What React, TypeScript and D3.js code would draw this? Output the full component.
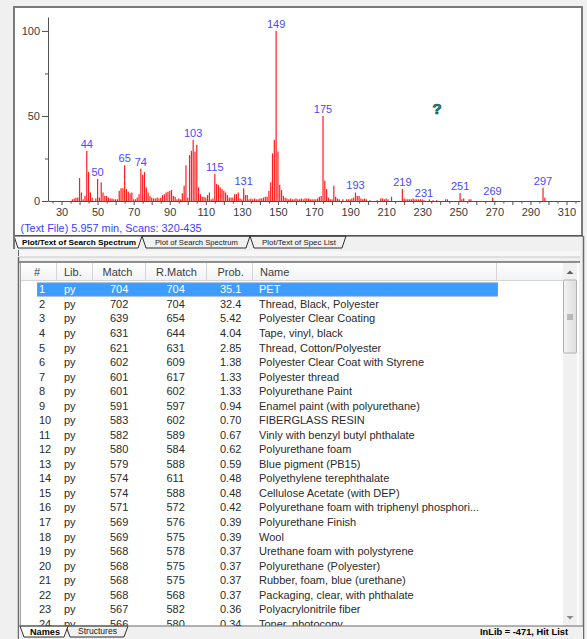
import React, { useEffect, useRef } from "react";
import { select, scaleLinear, axisBottom, axisLeft, range } from "d3";

// spectrum (m/z vs relative intensity, %)
const mzValues = [
  36, 37, 38, 39, 40, 41, 42, 43, 44, 45, 46, 47, 49, 50, 51, 52, 53, 54, 55, 56, 57, 58, 59, 60, 61,
  62, 63, 64, 65, 66, 67, 68, 69, 70, 71, 72, 73, 74, 75, 76, 77, 78, 79, 80, 81, 82, 83, 84, 85,
  86, 87, 88, 89, 90, 91, 92, 93, 94, 95, 96, 97, 98, 99, 100, 101, 102, 103, 104, 105, 106, 107,
  108, 109, 110, 111, 112, 113, 114, 115, 116, 117, 118, 119, 120, 121, 122, 123, 124, 125, 126,
  127, 128, 129, 130, 131, 132, 133, 134, 135, 136, 137, 138, 139, 140, 141, 142, 143, 144, 145,
  146, 147, 148, 149, 150, 151, 152, 153, 154, 155, 156, 157, 158, 159, 160, 161, 162, 163, 164,
  165, 166, 167, 168, 169, 170, 171, 172, 173, 174, 175, 176, 177, 178, 179, 180, 181, 182, 183,
  184, 186, 188, 189, 190, 191, 192, 193, 194, 195, 196, 197, 198, 199, 201, 205, 207, 208, 209,
  210, 211, 213, 219, 220, 221, 222, 223, 224, 225, 226, 227, 228, 229, 230, 231, 234, 236, 238,
  243, 244, 251, 252, 253, 256, 257, 269, 297, 298,
];
const intensities = [
  1, 1.5, 2, 2, 13.5, 5, 1, 3, 29.5, 17, 5, 2, 1.5, 13, 2, 11, 5, 3, 3, 2, 1.5, 1.5, 1, 1, 1,
  6, 7.5, 7.5, 21, 7, 5.5, 4.5, 5, 1, 1, 2, 4, 19, 15.5, 17, 8, 5, 3, 2, 1.5, 1.5, 2, 1.5, 2,
  3.5, 4, 5, 5.5, 6, 6.5, 3, 2.5, 1, 1.5, 1, 4.5, 9, 21, 2, 27, 29.5, 36, 29, 33, 8, 4,
  2.5, 2.5, 2, 3.5, 5, 1, 1.5, 16, 10, 9.5, 8, 7, 6, 5, 3.5, 2, 2, 2, 4,
  4, 5, 1.5, 1, 7.5, 3.5, 3.5, 1, 1.5, 1, 1.5, 1, 1, 1.5, 1.5, 2, 2.5, 2.5, 6,
  11, 28, 36, 100, 29, 9.5, 6.5, 3, 2, 1.5, 1, 1.5, 1, 1, 1.5, 1, 1, 1.5, 1,
  1.5, 1.5, 1.5, 1, 1, 1, 1, 1.5, 2.5, 3, 50, 12, 7, 2, 1, 1, 9, 2.5, 1.5,
  1, 1, 1, 1, 1, 1.5, 2, 5, 3, 3, 1.5, 1, 1.5, 1, 0.5, 0.5, 1.5, 1.5, 1,
  1.5, 1, 2.5, 7, 1.5, 1, 1, 1, 1, 1.5, 1, 1, 1, 1, 1, 0.5, 1, 0.5, 0.5,
  1, 1, 4.7, 1, 1.5, 1, 1, 2, 7.8, 2,
];
const labeledPeaks = [44, 50, 65, 74, 103, 115, 131, 149, 175, 193, 219, 231, 251, 269, 297];

const yTicks = [0, 25, 50, 75, 100];
const xTicks = range(25, 316, 5);

// hit list
const hitLibs = Array.from({ length: 24 }, () => "py");
const hitMatch = [704, 702, 639, 631, 621, 602, 601, 601, 591, 583, 582, 580, 579, 574, 574, 571, 569, 569, 568, 568, 568, 568, 567, 566];
const hitRMatch = [704, 704, 654, 644, 631, 609, 617, 602, 597, 602, 589, 584, 588, 611, 588, 572, 576, 575, 578, 575, 575, 568, 582, 580];
const hitProb = ["35.1", "32.4", "5.42", "4.04", "2.85", "1.38", "1.33", "1.33", "0.94", "0.70", "0.67", "0.62", "0.59", "0.48", "0.48", "0.42", "0.39", "0.39", "0.37", "0.37", "0.37", "0.37", "0.36", "0.34"];
const hitNames = [
  "PET",
  "Thread, Black, Polyester",
  "Polyester Clear Coating",
  "Tape, vinyl, black",
  "Thread, Cotton/Polyester",
  "Polyester Clear Coat with Styrene",
  "Polyester thread",
  "Polyurethane Paint",
  "Enamel paint (with polyurethane)",
  "FIBERGLASS RESIN",
  "Vinly with benzyl butyl phthalate",
  "Polyurethane foam",
  "Blue pigment (PB15)",
  "Polyethylene terephthalate",
  "Cellulose Acetate (with DEP)",
  "Polyurethane foam with triphenyl phosphori...",
  "Polyurethane Finish",
  "Wool",
  "Urethane foam with polystyrene",
  "Polyurethane (Polyester)",
  "Rubber, foam, blue (urethane)",
  "Packaging, clear, with phthalate",
  "Polyacrylonitrile fiber",
  "Toner, photocopy",
];
const headers = ["#", "Lib.", "Match", "R.Match", "Prob.", "Name"];

const FONT = "'Liberation Sans', Arial, sans-serif";

const App = () => {
  const xAxisRef = useRef<SVGGElement>(null);
  const yAxisRef = useRef<SVGGElement>(null);

  const x = scaleLinear().domain([22.5, 317.5]).range([48, 580]);
  const y = scaleLinear().domain([0, 108.2]).range([201, 17]);

  // row centres: row 1 at ~289, row 23 at ~609
  const rowY = scaleLinear().domain([0, 22]).range([289.4, 609.2]);
  const colX = [39, 64, 110, 166.5, 220, 259];
  const headX = [34, 64, 102.5, 156, 217.5, 260];
  const seps = [56.5, 92.5, 145.5, 206.5, 252.5, 496.5];

  useEffect(() => {
    const gx = select(xAxisRef.current);
    gx.call(
      axisBottom(x)
        .tickValues(xTicks)
        .tickSizeInner(3)
        .tickSizeOuter(0)
        .tickPadding(4.5)
        .tickFormat((d: any) => ((d - 30) % 20 === 0 ? String(d) : ""))
    );
    gx.select(".domain").attr("stroke", "#505050");
    gx.selectAll(".tick line")
      .attr("stroke", "#505050")
      .attr("y2", (d: any) => (d % 10 === 0 ? 4 : 2.5));
    gx.selectAll(".tick text")
      .attr("fill", "#3a3a3a")
      .style("font-family", FONT)
      .style("font-size", "11px");

    const gy = select(yAxisRef.current);
    gy.call(
      axisLeft(y)
        .tickValues(yTicks)
        .tickSizeInner(6)
        .tickSizeOuter(0)
        .tickPadding(2)
        .tickFormat((d: any) => (d % 50 === 0 ? String(d) : ""))
    );
    gy.select(".domain").attr("stroke", "#505050");
    gy.selectAll(".tick line")
      .attr("stroke", "#505050")
      .attr("x2", (d: any) => (d % 50 === 0 ? -6 : -3));
    gy.selectAll(".tick text")
      .attr("fill", "#3a3a3a")
      .style("font-family", FONT)
      .style("font-size", "11px");
  }, []);

  const tab = (x0: number, x1: number, y0: number, y1: number) =>
    `${x0},${y0} ${x0 + 4},${y1} ${x1 - 4},${y1} ${x1},${y0}`;

  return (
    <svg
      width={587}
      height={639}
      style={{ position: "absolute", left: 0, top: 0, background: "#f0f0f0" }}
    >
      {/* spectrum panel */}
      <rect x={14} y={7} width={568} height={229} fill="#ffffff" stroke="#7a7a7a" strokeWidth={2} />

      {mzValues.map((mz, i) => (
        <rect
          key={mz}
          x={x(mz) - 0.6}
          y={y(intensities[i])}
          width={1.2}
          height={y(0) - y(intensities[i])}
          fill="#ff1c1c"
        />
      ))}

      {labeledPeaks.map((mz) => {
        const v = intensities[mzValues.indexOf(mz)];
        return (
          <text
            key={mz}
            x={x(mz)}
            y={y(v) - 3}
            textAnchor="middle"
            fill="#4848ff"
            style={{ fontFamily: FONT, fontSize: 11 }}
          >
            {mz}
          </text>
        );
      })}

      <g ref={xAxisRef} transform={`translate(0,${y(0)})`} />
      <g ref={yAxisRef} transform={`translate(48,0)`} />

      <text
        x={437}
        y={114}
        textAnchor="middle"
        fill="#1f9d9d"
        stroke="#0d3d3d"
        strokeWidth={0.7}
        style={{ fontFamily: FONT, fontSize: 15, fontWeight: "bold" }}
      >
        ?
      </text>

      <text
        x={20.5}
        y={232}
        fill="#3c3cff"
        textLength={181}
        lengthAdjust="spacingAndGlyphs"
        style={{ fontFamily: FONT, fontSize: 11 }}
      >
        (Text File) 5.957 min, Scans: 320-435
      </text>

      {/* spectrum tabs */}
      <rect x={13} y={236} width={570} height={13} fill="#f0f0f0" />
      <polygon points={tab(250, 346, 236, 248)} fill="#f0f0f0" stroke="#303030" strokeWidth={1} />
      <polygon points={tab(142, 250, 236, 248)} fill="#f0f0f0" stroke="#303030" strokeWidth={1} />
      <polygon points={tab(14, 142, 236, 248)} fill="#ffffff" stroke="#303030" strokeWidth={1} />
      <line x1={142} x2={583} y1={236} y2={236} stroke="#303030" strokeWidth={1} />
      <line x1={14} x2={14} y1={7} y2={249} stroke="#7a7a7a" strokeWidth={2} />
      <text x={22} y={245} textLength={114} lengthAdjust="spacingAndGlyphs" fill="#000"
        style={{ fontFamily: FONT, fontSize: 8, fontWeight: "bold" }}>
        Plot/Text of Search Spectrum
      </text>
      <text x={155} y={244.5} textLength={83} lengthAdjust="spacingAndGlyphs" fill="#202020"
        style={{ fontFamily: FONT, fontSize: 8 }}>
        Plot of Search Spectrum
      </text>
      <text x={262} y={244.5} textLength={74} lengthAdjust="spacingAndGlyphs" fill="#202020"
        style={{ fontFamily: FONT, fontSize: 8 }}>
        Plot/Text of Spec List
      </text>

      {/* splitter */}
      <rect x={18} y={251} width={562} height={6} fill="#f7f7f7" />
      <line x1={18} x2={580} y1={257} y2={257} stroke="#c8c8c8" />
      <line x1={18.5} x2={18.5} y1={250} y2={256} stroke="#6a6a6a" />
      <line x1={583.5} x2={583.5} y1={236} y2={639} stroke="#6a6a6a" strokeWidth={1.5} />

      {/* hit list table */}
      <rect x={19} y={262} width={560} height={364} fill="#ffffff" />
      <line x1={18} x2={580} y1={262} y2={262} stroke="#6a6a6a" strokeWidth={1.5} />
      <line x1={18.5} x2={18.5} y1={257} y2={639} stroke="#6a6a6a" strokeWidth={1.5} />
      <line x1={20.5} x2={20.5} y1={263} y2={626} stroke="#a8a8a8" />

      <defs>
        <linearGradient id="hdr" x1="0" x2="0" y1="0" y2="1">
          <stop offset="0" stopColor="#ffffff" />
          <stop offset="1" stopColor="#f1f2f4" />
        </linearGradient>
        <linearGradient id="thumb" x1="0" x2="1" y1="0" y2="0">
          <stop offset="0" stopColor="#f4f4f4" />
          <stop offset="1" stopColor="#dcdcdc" />
        </linearGradient>
        <clipPath id="rows">
          <rect x={21} y={281} width={542} height={345} />
        </clipPath>
      </defs>

      <rect x={21} y={263} width={542} height={18} fill="url(#hdr)" />
      <line x1={21} x2={563} y1={280.5} y2={280.5} stroke="#d5d5d5" />
      {seps.map((s) => (
        <line key={s} x1={s} x2={s} y1={263} y2={280} stroke="#d5d5d5" />
      ))}
      {headers.map((h, i) => (
        <text key={h} x={headX[i]} y={276} fill="#3c3c3c" style={{ fontFamily: FONT, fontSize: 11 }}>
          {h}
        </text>
      ))}

      <g clipPath="url(#rows)">
        <rect x={37} y={282.5} width={461} height={14} fill="#3d9cff" />
        <rect x={37.5} y={283} width={460} height={13} fill="none" stroke="#e8a040" strokeDasharray="1,1" strokeWidth={0.6} />
        {hitNames.map((name, i) => {
          const cy = rowY(i) + 4;
          const c = i === 0 ? "#ffffff" : "#2a2a2a";
          const vals = [String(i + 1), hitLibs[i], String(hitMatch[i]), String(hitRMatch[i]), hitProb[i], name];
          return (
            <g key={i} style={{ fontFamily: FONT, fontSize: 11 }} fill={c}>
              {vals.map((v, j) => (
                <text key={j} x={colX[j]} y={cy}>
                  {v}
                </text>
              ))}
            </g>
          );
        })}
      </g>

      {/* scrollbar */}
      <rect x={563} y={263} width={14} height={363} fill="#f0f0f0" />
      <path d="M566.5,274 L570,270.5 L573.5,274 Z" fill="#606060" />
      <rect x={563.5} y={280} width={13} height={73} fill="url(#thumb)" stroke="#b0b0b0" rx={1} />
      <line x1={567} x2={573} y1={315} y2={315} stroke="#8a8a8a" />
      <line x1={567} x2={573} y1={317} y2={317} stroke="#8a8a8a" />
      <line x1={567} x2={573} y1={319} y2={319} stroke="#8a8a8a" />
      <path d="M566.5,616 L570,619.5 L573.5,616 Z" fill="#8a8a8a" />

      {/* bottom tabs + status */}
      <rect x={19} y={626} width={564} height={13} fill="#f0f0f0" />
      <polygon points={tab(66, 128, 626, 637)} fill="#f0f0f0" stroke="#303030" strokeWidth={1} />
      <polygon points={tab(20, 68, 626, 637)} fill="#ffffff" stroke="#303030" strokeWidth={1} />
      <line x1={18} x2={583} y1={626} y2={626} stroke="#6a6a6a" strokeWidth={1.2} />
      <text x={30} y={635} textLength={30} lengthAdjust="spacingAndGlyphs" fill="#000"
        style={{ fontFamily: FONT, fontSize: 9, fontWeight: "bold" }}>
        Names
      </text>
      <text x={78} y={634} textLength={39} lengthAdjust="spacingAndGlyphs" fill="#202020"
        style={{ fontFamily: FONT, fontSize: 8.5 }}>
        Structures
      </text>
      <text x={568} y={635} textAnchor="end" textLength={88} lengthAdjust="spacingAndGlyphs" fill="#000"
        style={{ fontFamily: FONT, fontSize: 9, fontWeight: "bold" }}>
        InLib = -471, Hit List
      </text>
    </svg>
  );
};

export default App;
